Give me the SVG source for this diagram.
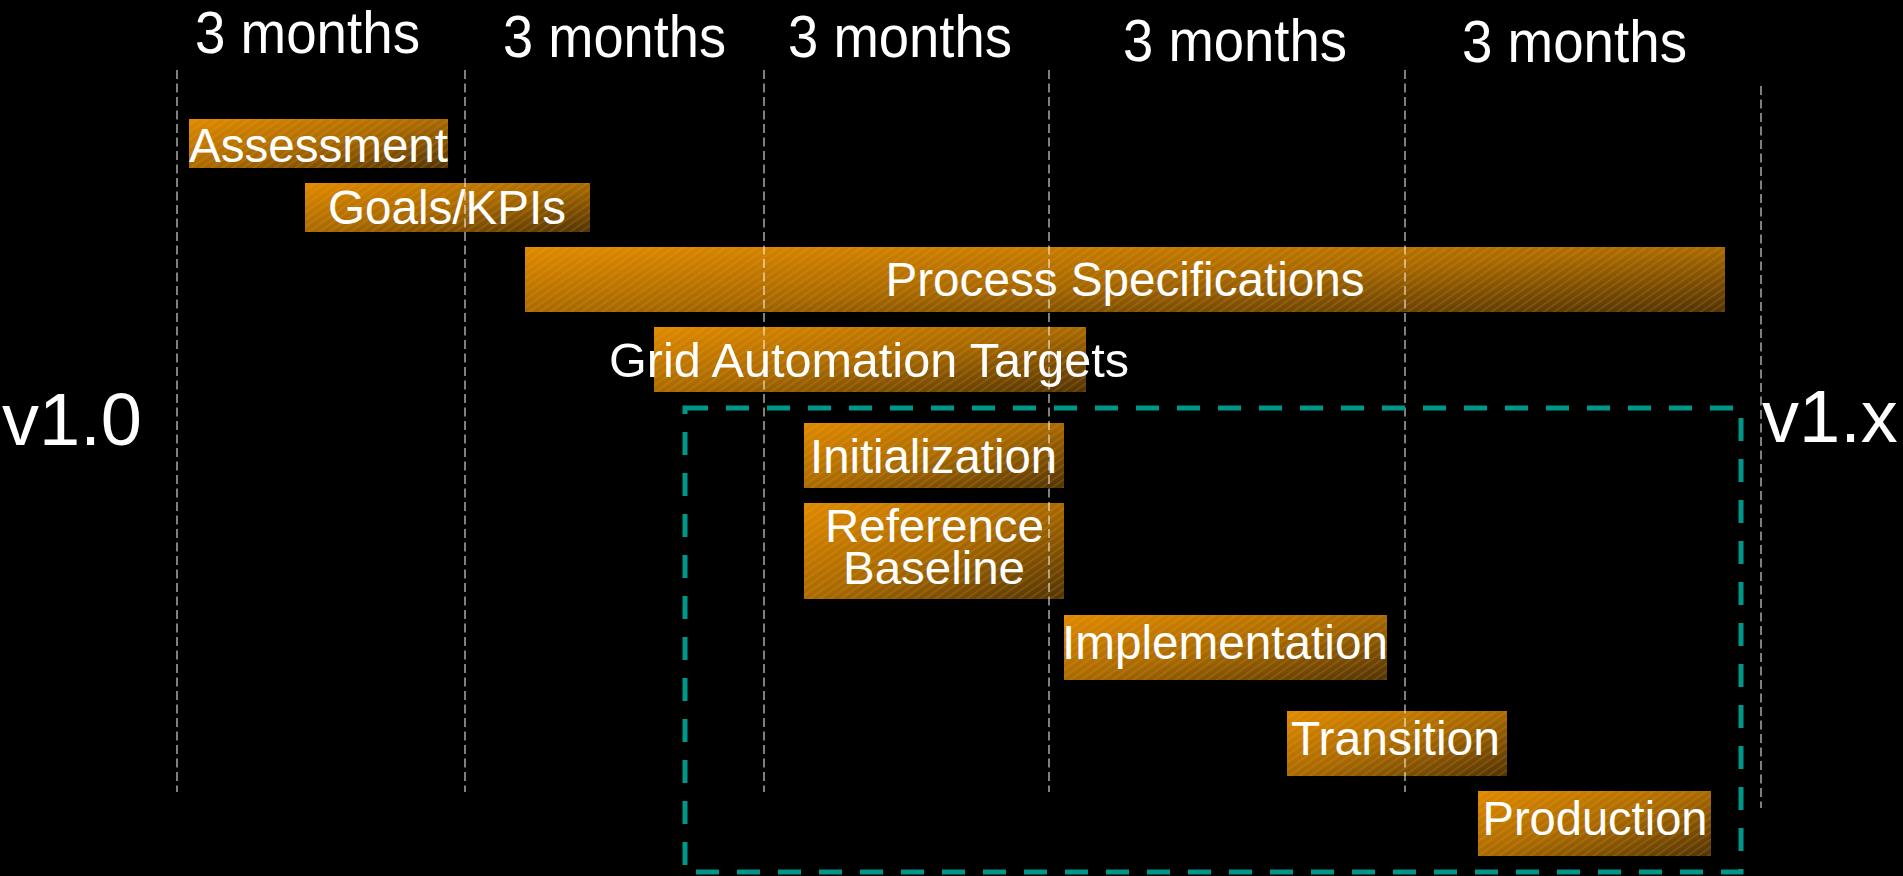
<svg xmlns="http://www.w3.org/2000/svg" width="1903" height="876" viewBox="0 0 1903 876">
  <style>
    .hdr { font-family: "Liberation Sans", Arial, sans-serif; font-size: 60px; fill: #ffffff; }
    .ver { font-family: "Liberation Sans", Arial, sans-serif; font-size: 74px; fill: #ffffff; }
    .lbl { font-family: "Liberation Sans", Arial, sans-serif; font-size: 48px; fill: #ffffff; text-anchor: middle; }
    .lbl2 { font-family: "Liberation Sans", Arial, sans-serif; font-size: 46px; fill: #ffffff; text-anchor: middle; }
    .bar { fill: url(#barGrad); }
    .tex { fill: url(#stripes); }
    .grid { stroke: #ffffff; stroke-opacity: 0.62; stroke-width: 1.6; stroke-dasharray: 9 4.5; fill: none; }
    .scope { fill: none; stroke: #009688; stroke-width: 5; stroke-dasharray: 23 18; }
  </style>
  <defs>
    <linearGradient id="barGrad" x1="0" y1="0" x2="1" y2="1">
      <stop offset="0" stop-color="#e08a00"/>
      <stop offset="0.5" stop-color="#a96a02"/>
      <stop offset="1" stop-color="#503306"/>
    </linearGradient>
    <pattern id="stripes" width="6" height="6" patternUnits="userSpaceOnUse" patternTransform="rotate(-35)">
      <rect x="0" y="0" width="6" height="1.8" fill="#ffb640" fill-opacity="0.16"/>
    </pattern>
  </defs>
  <rect x="0" y="0" width="1903" height="876" fill="#000000"/>

  <g id="headers">
    <text class="hdr" x="195" y="53" textLength="225" lengthAdjust="spacingAndGlyphs">3 months</text>
    <text class="hdr" x="503" y="57" textLength="223" lengthAdjust="spacingAndGlyphs">3 months</text>
    <text class="hdr" x="788" y="57" textLength="224" lengthAdjust="spacingAndGlyphs">3 months</text>
    <text class="hdr" x="1123" y="61" textLength="224" lengthAdjust="spacingAndGlyphs">3 months</text>
    <text class="hdr" x="1462" y="62" textLength="225" lengthAdjust="spacingAndGlyphs">3 months</text>
  </g>

  <g id="versions">
    <text class="ver" x="2" y="445">v1.0</text>
    <text class="ver" x="1762" y="442">v1.x</text>
  </g>

  <g id="node-assessment">
    <rect class="bar" x="189" y="119" width="259" height="49"/>
    <rect class="tex" x="189" y="119" width="259" height="49"/>
    <text class="lbl" x="318.5" y="162" textLength="259" lengthAdjust="spacingAndGlyphs">Assessment</text>
  </g>
  <g id="node-goals">
    <rect class="bar" x="305" y="183" width="285" height="49"/>
    <rect class="tex" x="305" y="183" width="285" height="49"/>
    <text class="lbl" x="447" y="224" textLength="238" lengthAdjust="spacingAndGlyphs">Goals/KPIs</text>
  </g>
  <g id="node-process">
    <rect class="bar" x="525" y="247" width="1200" height="65"/>
    <rect class="tex" x="525" y="247" width="1200" height="65"/>
    <text class="lbl" x="1125" y="296" textLength="479" lengthAdjust="spacingAndGlyphs">Process Specifications</text>
  </g>
  <g id="node-grid">
    <rect class="bar" x="654" y="327" width="432" height="65"/>
    <rect class="tex" x="654" y="327" width="432" height="65"/>
    <text class="lbl" x="869" y="377" textLength="520" lengthAdjust="spacingAndGlyphs">Grid Automation Targets</text>
  </g>
  <g id="node-initialization">
    <rect class="bar" x="804" y="423" width="260" height="65"/>
    <rect class="tex" x="804" y="423" width="260" height="65"/>
    <text class="lbl" x="933.5" y="473" textLength="247" lengthAdjust="spacingAndGlyphs">Initialization</text>
  </g>
  <g id="node-reference">
    <rect class="bar" x="804" y="503" width="260" height="96"/>
    <rect class="tex" x="804" y="503" width="260" height="96"/>
    <text class="lbl2" x="934.5" y="542" textLength="219" lengthAdjust="spacingAndGlyphs">Reference</text>
    <text class="lbl2" x="934" y="584" textLength="182" lengthAdjust="spacingAndGlyphs">Baseline</text>
  </g>
  <g id="node-implementation">
    <rect class="bar" x="1064" y="615" width="323" height="65"/>
    <rect class="tex" x="1064" y="615" width="323" height="65"/>
    <text class="lbl" x="1225" y="659" textLength="326" lengthAdjust="spacingAndGlyphs">Implementation</text>
  </g>
  <g id="node-transition">
    <rect class="bar" x="1287" y="711" width="220" height="65"/>
    <rect class="tex" x="1287" y="711" width="220" height="65"/>
    <text class="lbl" x="1395.5" y="755" textLength="209" lengthAdjust="spacingAndGlyphs">Transition</text>
  </g>
  <g id="node-production">
    <rect class="bar" x="1478" y="791" width="233" height="65"/>
    <rect class="tex" x="1478" y="791" width="233" height="65"/>
    <text class="lbl" x="1595" y="835" textLength="225" lengthAdjust="spacingAndGlyphs">Production</text>
  </g>

  <g id="connectors">
    <line class="grid" x1="177" y1="70" x2="177" y2="792"/>
    <line class="grid" x1="465" y1="70" x2="465" y2="792"/>
    <line class="grid" x1="764" y1="70" x2="764" y2="792"/>
    <line class="grid" x1="1049" y1="70" x2="1049" y2="792"/>
    <line class="grid" x1="1405" y1="70" x2="1405" y2="792"/>
    <line class="grid" x1="1761" y1="86" x2="1761" y2="808"/>
    <rect class="scope" x="685" y="408" width="1056" height="464"/>
  </g>
</svg>
